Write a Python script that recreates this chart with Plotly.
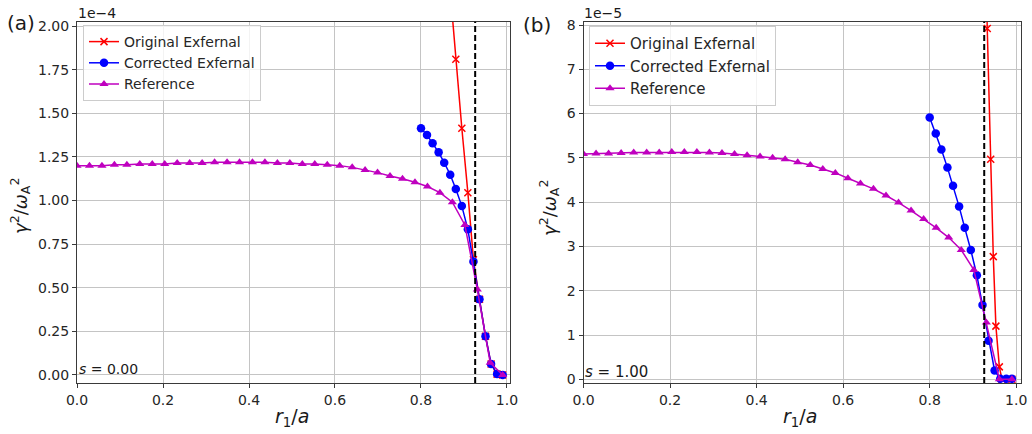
import plotly.graph_objects as go

# ---------------- data ----------------
# radial positions r1/a
ref_x = [0.0, 0.029, 0.058, 0.087, 0.116, 0.146, 0.175, 0.204, 0.233, 0.262,
         0.291, 0.320, 0.349, 0.378, 0.408, 0.437, 0.466, 0.495, 0.524, 0.553,
         0.582, 0.611, 0.640, 0.670, 0.699, 0.728, 0.757, 0.786, 0.815, 0.844,
         0.873, 0.902, 0.931, 0.961, 0.990]
cor_x = [0.800, 0.814, 0.827, 0.841, 0.854, 0.868, 0.881, 0.895, 0.909, 0.922,
         0.936, 0.950, 0.963, 0.977, 0.990]

# panel (a): s = 0.00, values in units of 1e-4
a_ref = [1.20, 1.20, 1.20, 1.205, 1.205, 1.21, 1.21, 1.21, 1.215, 1.215,
         1.215, 1.22, 1.22, 1.22, 1.22, 1.22, 1.215, 1.215, 1.21, 1.21,
         1.205, 1.20, 1.19, 1.175, 1.16, 1.14, 1.125, 1.105, 1.08, 1.045,
         0.99, 0.86, 0.49, 0.07, 0.0]
a_cor = [1.414, 1.375, 1.328, 1.276, 1.217, 1.148, 1.066, 0.968, 0.835, 0.650,
         0.434, 0.222, 0.063, 0.005, 0.0]
a_orig_x = cor_x
a_orig = [4.3, 3.8, 3.35, 2.95, 2.57, 2.20, 1.81, 1.414, 1.045, 0.66,
          0.434, 0.222, 0.063, 0.005, 0.0]
a_rs = 0.926

# panel (b): s = 1.00, values in units of 1e-5
b_ref = [5.09, 5.10, 5.10, 5.11, 5.12, 5.12, 5.12, 5.13, 5.13, 5.13,
         5.12, 5.11, 5.09, 5.06, 5.03, 5.00, 4.97, 4.90, 4.84, 4.75,
         4.66, 4.54, 4.42, 4.30, 4.15, 3.99, 3.81, 3.62, 3.42, 3.20,
         2.92, 2.47, 1.28, 0.0, 0.0]
b_cor = [5.91, 5.55, 5.19, 4.78, 4.37, 3.90, 3.42, 2.92, 2.35, 1.68,
         0.87, 0.196, 0.01, 0.01, 0.01]
b_orig_x = [0.926, 0.933, 0.941, 0.947, 0.953, 0.961, 0.967, 0.990]
b_orig = [11.6, 7.92, 4.97, 2.77, 1.20, 0.28, 0.0, 0.0]
b_rs = 0.926

names = ["Original Exfernal", "Corrected Exfernal", "Reference"]
RED, BLUE, MAG = "#ff0000", "#0000ff", "#bf00bf"
FONT = "DejaVu Sans"
W, H = 1032, 434

fig = go.Figure()


def add_panel(xa, ya, legend, ox, oy, cx, cy, rx, ry):
    fig.add_trace(go.Scatter(
        x=ox, y=oy, mode="lines+markers", name=names[0], legend=legend,
        line=dict(color=RED, width=1.5),
        marker=dict(symbol="x-thin", size=7, color=RED,
                    line=dict(color=RED, width=1.5)),
        xaxis=xa, yaxis=ya, cliponaxis=True))
    fig.add_trace(go.Scatter(
        x=cx, y=cy, mode="lines+markers", name=names[1], legend=legend,
        line=dict(color=BLUE, width=1.5),
        marker=dict(symbol="circle", size=8.5, color=BLUE),
        xaxis=xa, yaxis=ya))
    fig.add_trace(go.Scatter(
        x=rx, y=ry, mode="lines+markers", name=names[2], legend=legend,
        line=dict(color=MAG, width=1.5),
        marker=dict(symbol="triangle-up", size=8, color=MAG),
        xaxis=xa, yaxis=ya))


add_panel("x", "y", "legend", a_orig_x, a_orig, cor_x, a_cor, ref_x, a_ref)
add_panel("x2", "y2", "legend2", b_orig_x, b_orig, cor_x, b_cor, ref_x, b_ref)

fig.add_shape(type="line", xref="x", yref="y domain", x0=a_rs, x1=a_rs, y0=0, y1=1,
              line=dict(color="black", width=2, dash="6px,3px"))
fig.add_shape(type="line", xref="x2", yref="y2 domain", x0=b_rs, x1=b_rs, y0=0, y1=1,
              line=dict(color="black", width=2, dash="6px,3px"))


def px_x(p):
    return p / W


def px_y(p):
    return 1 - p / H


ydom = [px_y(383), px_y(21.7)]
axis_common = dict(
    showgrid=True, gridcolor="#c4c4c4", gridwidth=1,
    showline=True, linecolor="#3a3a3a", linewidth=1, mirror=True,
    ticks="outside", ticklen=4, tickcolor="#3a3a3a", tickwidth=1,
    zeroline=False, automargin=False,
    tickfont=dict(family=FONT, size=14, color="#262626"),
)

fig.update_layout(
    width=W, height=H, margin=dict(l=0, r=0, t=0, b=0, pad=0, autoexpand=False),
    paper_bgcolor="white", plot_bgcolor="white",
    font=dict(family=FONT, color="#262626"),
    xaxis=dict(domain=[px_x(77), px_x(510)], range=[0, 1.007],
               tickvals=[0, 0.2, 0.4, 0.6, 0.8, 1.0], tickformat=".1f",
               anchor="y", **axis_common),
    yaxis=dict(domain=ydom, range=[-0.046, 2.025],
               tickvals=[0, 0.25, 0.5, 0.75, 1.0, 1.25, 1.5, 1.75, 2.0],
               tickformat=".2f", anchor="x", **axis_common),
    xaxis2=dict(domain=[px_x(583.5), px_x(1021)], range=[0, 1.011],
                tickvals=[0, 0.2, 0.4, 0.6, 0.8, 1.0], tickformat=".1f",
                anchor="y2", **axis_common),
    yaxis2=dict(domain=ydom, range=[-0.084, 8.075],
                tickvals=[0, 1, 2, 3, 4, 5, 6, 7, 8],
                tickformat="d", anchor="x2", **axis_common),
    legend=dict(x=px_x(83), y=px_y(25), xanchor="left", yanchor="top",
                bgcolor="rgba(255,255,255,0.8)", bordercolor="#cccccc",
                borderwidth=1, font=dict(family=FONT, size=14, color="#262626"),
                tracegroupgap=0),
    legend2=dict(x=px_x(589), y=px_y(26), xanchor="left", yanchor="top",
                 bgcolor="rgba(255,255,255,0.8)", bordercolor="#cccccc",
                 borderwidth=1, font=dict(family=FONT, size=15, color="#262626"),
                 tracegroupgap=0),
)

ann = []


def text(xp, yp, s, size, xanchor="center", angle=0):
    ann.append(dict(x=px_x(xp), y=px_y(yp), xref="paper", yref="paper",
                    text=s, showarrow=False, xanchor=xanchor, yanchor="middle",
                    textangle=angle,
                    font=dict(family=FONT, size=size, color="#1a1a1a")))


text(21, 23, "(a)", 20)
text(537, 25, "(b)", 20)
text(76, 13, "1e\u22124", 14, "left")
text(582, 13, "1e\u22125", 14, "left")
text(77, 369, "<i>s</i> = 0.00", 14, "left")
text(583, 372, "<i>s</i> = 1.00", 15, "left")
ytitle = "<i>\u03b3</i><sup>2</sup>/<i>\u03c9</i><sub>A</sub><sup>2</sup>"
text(20, 206, ytitle, 18, angle=-90)
text(549, 208, ytitle, 18, angle=-90)
xtitle = "<i>r</i><sub>1</sub>/<i>a</i>"
text(292, 417, xtitle, 19)
text(800, 417, xtitle, 19)
fig.update_layout(annotations=ann)

fig.write_html(
    "out.html",
    config={"displayModeBar": False},
    post_script="document.body.style.margin='0';document.body.style.overflow='hidden';",
)
